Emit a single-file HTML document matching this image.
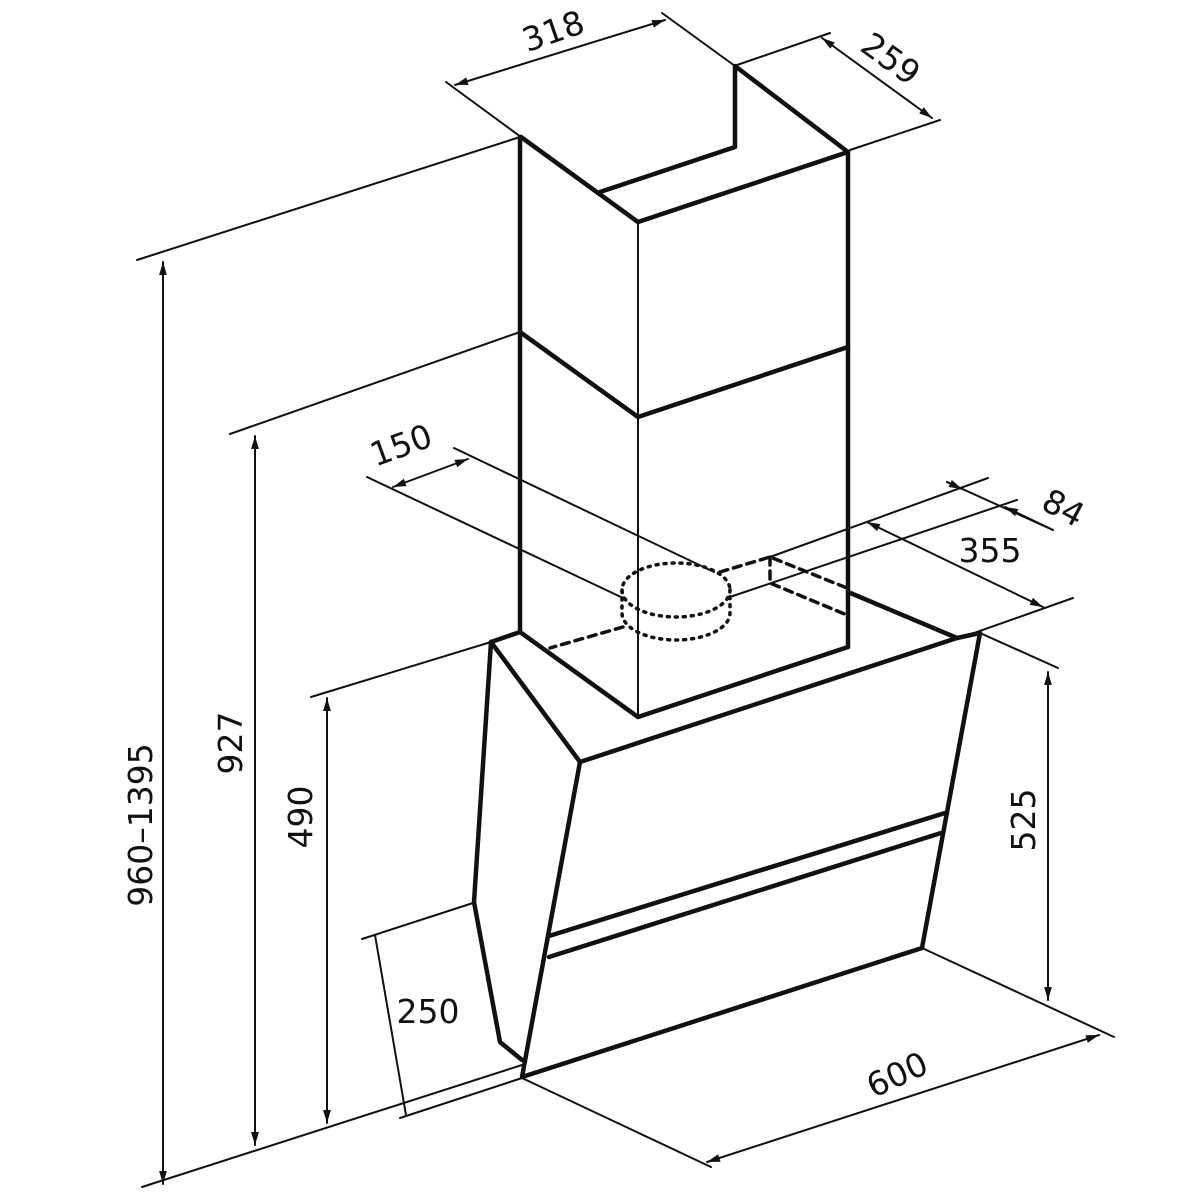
<!DOCTYPE html>
<html><head><meta charset="utf-8"><style>
html,body{margin:0;padding:0;background:#fff}
svg{display:block}
text{font-family:"DejaVu Sans","Liberation Sans",sans-serif;font-size:33px;fill:#111}
</style></head><body>
<svg width="1200" height="1200" viewBox="0 0 1200 1200" xmlns="http://www.w3.org/2000/svg">
<defs>
<marker id="b" viewBox="0 0 10 10" refX="10" refY="5" markerWidth="18" markerHeight="13" orient="auto-start-reverse" markerUnits="userSpaceOnUse"><path d="M0,2 L10,5 L0,8 z" fill="#111"/></marker>
</defs>
<g stroke="#111" fill="none" stroke-linecap="round" stroke-linejoin="round">
<g stroke-width="2">
<line x1="446" y1="82" x2="521" y2="137"/>
<line x1="662" y1="13" x2="735" y2="66"/>
<line x1="737" y1="65" x2="830" y2="33"/>
<line x1="850" y1="150" x2="940" y2="120"/>
<line x1="137" y1="260" x2="520" y2="137"/>
<line x1="230" y1="434" x2="520" y2="332"/>
<line x1="367" y1="477" x2="623" y2="598"/>
<line x1="454" y1="448" x2="714" y2="572"/>
<line x1="730" y1="597" x2="1017" y2="500"/>
<line x1="770" y1="557" x2="988" y2="478"/>
<line x1="947" y1="482" x2="1053" y2="530"/>
<line x1="957" y1="639" x2="1073" y2="598"/>
<line x1="980" y1="633" x2="1058" y2="668"/>
<line x1="311" y1="697" x2="491" y2="642"/>
<line x1="362" y1="939" x2="473" y2="903"/>
<line x1="400" y1="1118" x2="522" y2="1078"/>
<line x1="142" y1="1187" x2="522" y2="1065"/>
<line x1="922" y1="948" x2="1114" y2="1037"/>
<line x1="522" y1="1078" x2="711" y2="1167"/>
<line x1="638" y1="222" x2="638" y2="717"/>
</g>
<g stroke-width="2">
<line x1="455" y1="85" x2="665" y2="20" marker-start="url(#b)" marker-end="url(#b)"/>
<line x1="822" y1="38" x2="932" y2="118" marker-start="url(#b)" marker-end="url(#b)"/>
<line x1="163" y1="262" x2="163" y2="1184" marker-start="url(#b)" marker-end="url(#b)"/>
<line x1="255" y1="436" x2="255" y2="1145" marker-start="url(#b)" marker-end="url(#b)"/>
<line x1="327" y1="698" x2="327" y2="1123" marker-start="url(#b)" marker-end="url(#b)"/>
<line x1="1048" y1="672" x2="1048" y2="1000" marker-start="url(#b)" marker-end="url(#b)"/>
<line x1="393" y1="487" x2="468" y2="459" marker-start="url(#b)" marker-end="url(#b)"/>
<line x1="867" y1="522" x2="1043" y2="607" marker-start="url(#b)" marker-end="url(#b)"/>
<line x1="707" y1="1162" x2="1099" y2="1035" marker-start="url(#b)" marker-end="url(#b)"/>
<line x1="375" y1="935" x2="406" y2="1115"/>
<line x1="947" y1="482" x2="962" y2="489" marker-end="url(#b)"/>
<line x1="1053" y1="530" x2="1005" y2="507" marker-end="url(#b)"/>
</g>
<g stroke-width="4.5">
<polyline points="521,137 638,222 848,152 735,66 735,147 600,192"/>
<line x1="520" y1="137" x2="520" y2="632"/>
<line x1="848" y1="152" x2="848" y2="647"/>
<polyline points="520,332 638,417 848,347"/>
<polyline points="491,642 520,632 638,717 848,647"/>
<polyline points="848,592 957,638 980,633"/>
<polyline points="491,642 580,762 957,638"/>
<polyline points="491,642 474,902 500,1042 522,1060"/>
<polyline points="580,762 522,1077 922,948 980,633"/>
<line x1="549" y1="936" x2="945" y2="813"/>
<line x1="549" y1="957" x2="941" y2="833"/>
</g>
<g stroke-width="3.5" stroke-dasharray="8,6">
<line x1="623" y1="627" x2="550" y2="648"/>
<polyline points="720,572 770,557 847,588"/>
<polyline points="770,557 770,583 847,615"/>
</g>
<g stroke-width="3.5" stroke-dasharray="2,6">
<ellipse cx="676" cy="590" rx="54" ry="27"/>
<path d="M622,590 L622,613 A54,27 0 0 0 730,613 L730,590"/>
</g>
</g>
<text transform="translate(557,42) rotate(-19)" text-anchor="middle">318</text>
<text transform="translate(884,68) rotate(36)" text-anchor="middle">259</text>
<text transform="translate(405,456) rotate(-20)" text-anchor="middle">150</text>
<text transform="translate(1058,518) rotate(28)" text-anchor="middle">84</text>
<text x="990" y="562" text-anchor="middle">355</text>
<text transform="translate(152,825) rotate(-90)" text-anchor="middle">960–1395</text>
<text transform="translate(242,743) rotate(-90)" text-anchor="middle">927</text>
<text transform="translate(312,817) rotate(-90)" text-anchor="middle">490</text>
<text transform="translate(1035,820) rotate(-90)" text-anchor="middle">525</text>
<text x="428" y="1023" text-anchor="middle">250</text>
<text transform="translate(902,1085) rotate(-25)" text-anchor="middle">600</text>
</svg>
</body></html>
